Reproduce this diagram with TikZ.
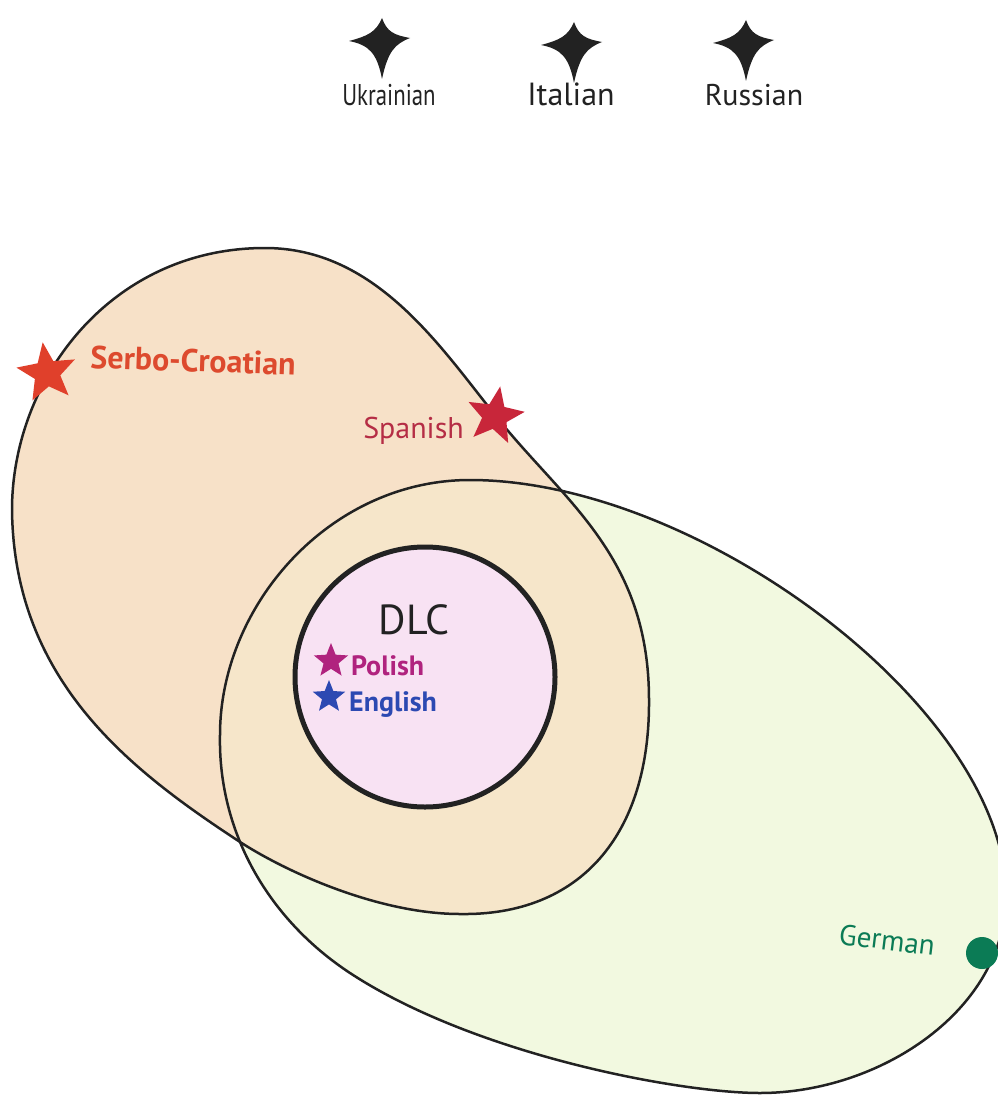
\documentclass[tikz,border=0pt]{standalone}
\usepackage{graphicx}
\usepackage{fontspec}
\setmainfont{PT Sans}
\usetikzlibrary{shapes.geometric}
\definecolor{ofill}{HTML}{F7E1C8}
\definecolor{gfill}{HTML}{F2F9E0}
\definecolor{ifill}{HTML}{F6E6CA}
\definecolor{pfill}{HTML}{F8E2F3}
\definecolor{serbo}{HTML}{DD4A2E}
\definecolor{serbostar}{HTML}{E0402B}
\definecolor{spanish}{HTML}{B52D45}
\definecolor{spanishstar}{HTML}{C8263A}
\definecolor{polish}{HTML}{B0237E}
\definecolor{english}{HTML}{2C49B2}
\definecolor{german}{HTML}{0B7B55}
\definecolor{ink}{HTML}{222222}
\tikzset{
  setline/.style={draw=ink, line width=2.5pt},
  dlcline/.style={draw=ink, line width=5pt},
  fivestar/.style={star, star points=5, star point ratio=2.3, inner sep=0pt, draw=none},
  toplabel/.style={text=ink, inner sep=0pt},
  biglabel/.style={inner sep=0pt},
  boldlabel/.style={font=\bfseries\fontsize{28}{30}\selectfont, inner sep=0pt},
  fourstar/.pic={
    \fill[ink] (0,-23) .. controls (5,-9) and (12,-6) .. (28,-3)
      .. controls (13,3) and (6,10) .. (0,38)
      .. controls (-5,12) and (-13,4) .. (-33,0)
      .. controls (-14,-5) and (-6,-9) .. (0,-23) -- cycle;
  }
}
\begin{document}
\begin{tikzpicture}[x=1pt,y=-1pt]
\useasboundingbox (0,0) rectangle (998,1097);
\fill[white] (0,0) rectangle (998,1097);
\begin{scope}
\clip (0,0) rectangle (998,1097);
\path[save path=\pathO] (12,510) .. controls (12,380) and (110,248) .. (265,248)
  .. controls (375,248) and (439,345) .. (495,415)
  .. controls (563,501) and (649,555) .. (649,700)
  .. controls (650,835) and (580,916) .. (460,914)
  .. controls (380,914) and (287,873) .. (237,840)
  .. controls (129,769) and (14,680) .. (12,510) -- cycle;
\path[save path=\pathG] (220,735) .. controls (220,605) and (330,480) .. (470,480)
  .. controls (700,480) and (1006,710) .. (1006,895)
  .. controls (1006,1010) and (880,1093) .. (760,1093)
  .. controls (680,1093) and (475,1055) .. (350,973)
  .. controls (266.5,918) and (218,830) .. (220,735) -- cycle;
\fill[gfill, use path=\pathG];
\fill[ofill, use path=\pathO];
\begin{scope}
 \clip[use path=\pathO];
 \fill[ifill, use path=\pathG];
\end{scope}
\fill[pfill] (425,677) circle [radius=130];
\draw[setline, use path=\pathO];
\draw[setline, use path=\pathG];
\end{scope}
\draw[dlcline] (425,677) circle [radius=130];

% top four-point stars and labels
\pic at (382,41) {fourstar};
\pic at (574,45) {fourstar};
\pic at (746,43) {fourstar};
\node[toplabel, font=\fontsize{30}{32}\selectfont, anchor=base] (ukr) at (389,106) {\scalebox{0.76}[1]{Ukrainian}};
\node[toplabel, font=\fontsize{32}{34}\selectfont, anchor=base] (ita) at (571,106) {Italian};
\node[toplabel, font=\fontsize{30}{32}\selectfont, anchor=base] (rus) at (754,106) {Russian};

% Serbo-Croatian
\node[fivestar, fill=serbostar, minimum size=62pt, rotate=8] (sstar) at (47,373) {};
\node[font=\bfseries\fontsize{32}{34}\selectfont, inner sep=0pt, text=serbo, anchor=base west, rotate=-2] (serbo) at (90,368) {Serbo-Croatian};

% Spanish
\node[fivestar, fill=spanishstar, minimum size=60pt, rotate=-10] (spstar) at (495,416) {};
\node[biglabel, font=\fontsize{30}{32}\selectfont, text=spanish, anchor=base east] (spanish) at (464,438) {Spanish};

% DLC
\node[font=\fontsize{42}{44}\selectfont, text=ink, inner sep=0pt, anchor=base] (dlc) at (414,634) {DLC};
\node[fivestar, fill=polish, minimum size=36pt] (pstar) at (331,661) {};
\node[boldlabel, text=polish, anchor=base west] (polish) at (351,675) {Polish};
\node[fivestar, fill=english, minimum size=34pt] (estar) at (329,697) {};
\node[boldlabel, text=english, anchor=base west] (english) at (349,711) {English};

% German
\begin{scope}
\clip (0,0) rectangle (998,1097);
\fill[german] (982,953) circle [radius=16];
\end{scope}
\node[biglabel, font=\fontsize{29}{31}\selectfont, text=german, anchor=base west, rotate=-7] (german) at (838,944) {German};
\end{tikzpicture}
\end{document}
